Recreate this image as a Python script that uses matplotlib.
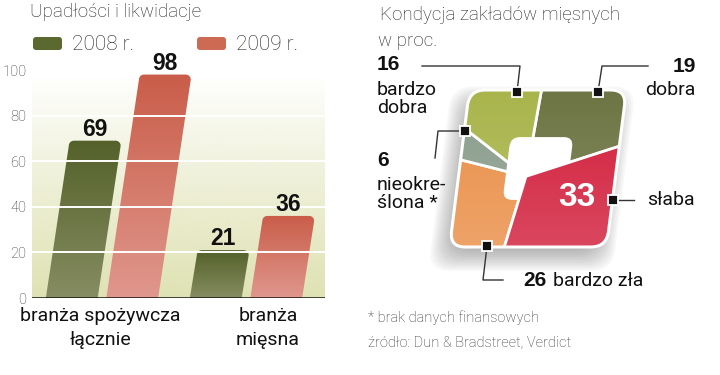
import numpy as np
import matplotlib
matplotlib.use('Agg')
import matplotlib.pyplot as plt
from matplotlib.patches import FancyBboxPatch, Polygon
from matplotlib.colors import LinearSegmentedColormap, to_rgb
from matplotlib.transforms import Affine2D

# data
categories = ['branża spożywcza\nłącznie', 'branża\nmięsna']
years = ['2008 r.', '2009 r.']
v2008 = [69, 21]
v2009 = [98, 36]
yticks = [0, 20, 40, 60, 80, 100]

cond_labels = ['dobra', 'słaba', 'bardzo zła', 'nieokreślona', 'bardzo dobra']
cond_values = [19, 33, 26, 6, 16]
cond_colors = ['#6d7544', '#d21f3c', '#ea8f48', '#8a9d8c', '#a9b54c']

REG = ['Roboto', 'DejaVu Sans']
NUM = ['Liberation Sans', 'DejaVu Sans']
plt.rcParams['font.family'] = REG

fig = plt.figure(figsize=(7.2, 3.75), dpi=100)

# ---------------- left: bar chart ----------------
px_x = 1 / 144      # category units per pixel
px_y = 100 / 228    # value units per pixel
ax = fig.add_axes([32 / 720, 77 / 375, 293 / 720, 234.8 / 375])
x0, x1 = -70 * px_x, 223 * px_x
slant = 0.333 * px_x

bg = np.zeros((256, 1, 4))
bg[..., :3] = to_rgb('#dfe2b3')
bg[..., 3] = np.linspace(0, 1, 256)[:, None] ** 0.9
ax.imshow(bg, extent=[x0, x1, 0, 97], origin='upper', aspect='auto', zorder=0)


def bar_verts(xc, v, w, r=5):
    s = slant * v
    xl, xr = xc - w / 2, xc + w / 2
    rx, ry = r * px_x, r * px_y
    pts = [(xl, 0), (xr, 0)]
    for t in np.linspace(0, np.pi / 2, 8):
        pts.append((xr + s - rx + rx * np.cos(t), v - ry + ry * np.sin(t)))
    for t in np.linspace(np.pi / 2, np.pi, 8):
        pts.append((xl + s + rx + rx * np.cos(t), v - ry + ry * np.sin(t)))
    return pts


series = [(v2008, -0.21, '#868d62', '#54612a'), (v2009, 0.21, '#e0978d', '#c95d49')]
w = 0.36
for vals, off, c_bot, c_top in series:
    cmap = LinearSegmentedColormap.from_list('g', [c_bot, c_top])
    for j, v in enumerate(vals):
        xc = j + off
        poly = Polygon(bar_verts(xc, v, w), closed=True, fc='none', ec='none')
        ax.add_patch(poly)
        img = ax.imshow(np.linspace(0, 1, 256)[:, None], cmap=cmap, origin='lower',
                        extent=[xc - w / 2, xc + w / 2 + slant * v, 0, v],
                        aspect='auto', zorder=1, interpolation='bilinear')
        img.set_clip_path(poly)
        ax.text(xc + slant * v, v + 5 * px_y, str(v), ha='center', va='baseline',
                fontsize=16.5, fontweight='bold', family=NUM, color='#111')

for t in yticks[1:-1]:
    ax.axhline(t, color='white', lw=1.4, zorder=2)
ax.axhline(0, color='#111', lw=1.8, zorder=3)

ax.set_xlim(x0, x1)
ax.set_ylim(0, 234.8 * px_y)
ax.set_yticks(yticks)
ax.set_xticks([])
ax.tick_params(axis='y', length=0, pad=4, labelsize=10.5, labelcolor='#333')
for lab in ax.get_yticklabels():
    lab.set_fontweight('light')
for sp in ax.spines.values():
    sp.set_visible(False)
ax.set_facecolor('none')

# ---------------- right: condition "pie" ----------------
cx_px, cy_px, unit = 538, 168.5, 78.5
axp = fig.add_axes([(cx_px - 1.6 * unit) / 720, (375 - cy_px - 1.6 * unit) / 375,
                    3.2 * unit / 720, 3.2 * unit / 375])
skew = Affine2D().skew(np.arctan(0.127), 0) + axp.transData

for k in range(12):
    h = 0.9 + 0.025 * k
    axp.add_patch(FancyBboxPatch((-0.06 - h, -0.13 - h), 2 * h, 2 * h,
                                 boxstyle='round,pad=0,rounding_size=0.28',
                                 fc='#555555', ec='none', alpha=0.045,
                                 transform=skew, zorder=0.5))

square = FancyBboxPatch((-1, -1), 2, 2, boxstyle='round,pad=0,rounding_size=0.2',
                        fc='none', ec='none', transform=skew)
axp.add_patch(square)

wedges, _ = axp.pie(cond_values, colors=cond_colors, startangle=87, counterclock=False,
                    radius=2.3, center=(-0.14, -0.1),
                    wedgeprops=dict(edgecolor='white', linewidth=2))
for i, wd in enumerate(wedges):
    wd.set_transform(skew)
    wd.set_clip_on(True)
    wd.set_clip_path(square)
    wd.set_zorder(3 if cond_labels[i] == 'słaba' else 1)

axp.add_patch(FancyBboxPatch((-0.4, -0.4), 0.8, 0.8, boxstyle='round,pad=0,rounding_size=0.12',
                             fc='white', ec='none', transform=skew, zorder=2))

shade = np.ones((256, 1, 4))
shade[..., 3] = np.linspace(0, 0.18, 256)[:, None]
im = axp.imshow(shade, extent=[-1.3, 1.3, -1.0, 1.0], origin='upper', aspect='auto', zorder=4)
im.set_clip_path(square)

axp.add_patch(FancyBboxPatch((-1, -1), 2, 2, boxstyle='round,pad=0,rounding_size=0.2',
                             fc='none', ec='white', lw=2.2, transform=skew, zorder=5))
axp.set_xlim(-1.6, 1.6)
axp.set_ylim(-1.6, 1.6)
axp.axis('off')

# ---------------- overlay for texts, legend, leaders ----------------
ao = fig.add_axes([0, 0, 1, 1], zorder=10)
ao.set_xlim(0, 720)
ao.set_ylim(375, 0)
ao.axis('off')

ao.text(30, 12, 'Upadłości i likwidacje', fontsize=13.5, color='#222', va='center',
        fontweight='light')
ao.text(380, 15, 'Kondycja zakładów mięsnych', fontsize=13.5, color='#222', va='center',
        fontweight='light')
ao.text(378, 41, 'w proc.', fontsize=13.5, color='#222', va='center', fontweight='light')

leg_cols = ['#5b6830', '#cd6a54']
for lx, col, lab in zip([33, 197], leg_cols, years):
    ao.add_patch(FancyBboxPatch((lx, 37), 29, 13, boxstyle='round,pad=0,rounding_size=3',
                                fc=col, ec='none'))
    ao.text(lx + 39, 44, lab, fontsize=15, color='#222', va='center', fontweight='light')

ao.text(100, 328, categories[0], fontsize=14, color='#111', ha='center', va='center',
        linespacing=1.45)
ao.text(268, 328, categories[1], fontsize=14, color='#111', ha='center', va='center',
        linespacing=1.45)

# leader lines: first point is the marker on the shape
lc = '#333333'
leaders = [
    [(517, 92), (520, 66), (422, 66)],
    [(598, 92), (602, 66), (648, 66)],
    [(465, 131), (438, 131), (435, 158)],
    [(613, 200), (634, 200)],
    [(487, 246), (483, 280), (503, 280)],
]
for pts in leaders:
    xs, ys = zip(*pts)
    ao.plot(xs, ys, color=lc, lw=1)
    ao.plot(xs[0], ys[0], marker='s', ms=6.5, color='#111', mec='white', mew=1.3)

vals = dict(zip(cond_labels, cond_values))
ao.text(377, 65, str(vals['bardzo dobra']), fontsize=15, fontweight='bold', family=NUM,
        va='center', color='#111')
ao.text(377, 99, 'bardzo\ndobra', fontsize=14, va='center', color='#111', linespacing=1.0)
ao.text(696, 66, str(vals['dobra']), fontsize=15, fontweight='bold', family=NUM,
        va='center', ha='right', color='#111')
ao.text(696, 90, 'dobra', fontsize=14, va='center', ha='right', color='#111')
ao.text(377, 160, str(vals['nieokreślona']), fontsize=15, fontweight='bold', family=NUM,
        va='center', color='#111')
ao.text(377, 194, 'nieokre-\nślona *', fontsize=14, va='center', color='#111', linespacing=1.0)
ao.text(647, 200, 'słaba', fontsize=14, va='center', color='#111')
ao.text(523, 281, str(vals['bardzo zła']), fontsize=15, fontweight='bold', family=NUM,
        va='center', color='#111')
ao.text(553, 281, 'bardzo zła', fontsize=14, va='center', color='#111')
ao.text(577, 198, str(vals['słaba']), fontsize=24, fontweight='bold', family=NUM,
        va='center', ha='center', color='white')

ao.text(368, 318, '* brak danych finansowych', fontsize=10.5, color='#333', va='center',
        fontweight='light')
ao.text(368, 343, 'źródło: Dun & Bradstreet, Verdict', fontsize=10.5, color='#333',
        va='center', fontweight='light')

fig.savefig('out.png', dpi=100)
